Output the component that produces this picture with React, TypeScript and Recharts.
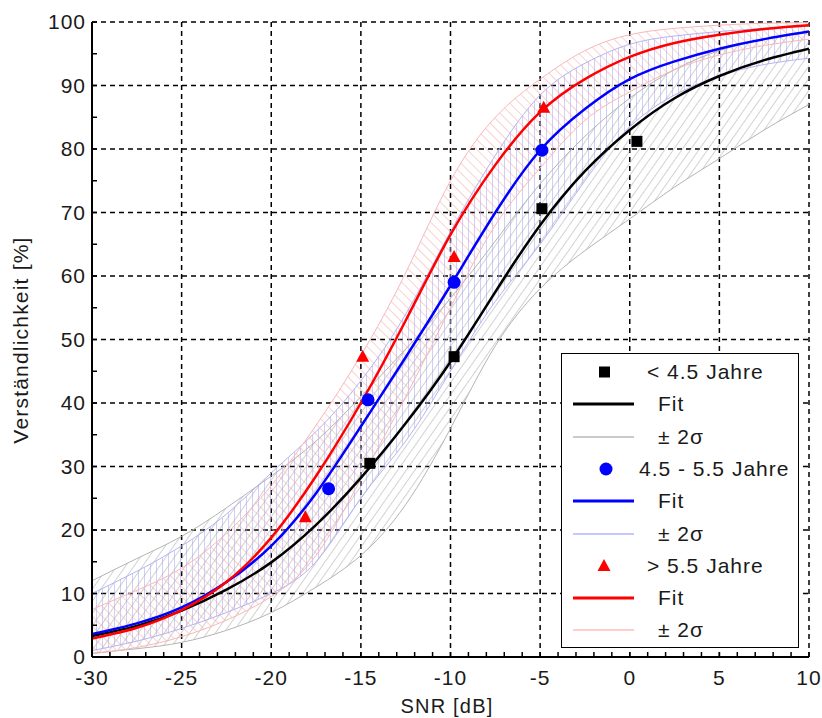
import React from 'react';
import { ComposedChart, Area, Line, Scatter, XAxis, YAxis, CartesianGrid } from 'recharts';

const FONT = '"Liberation Sans", Arial, Helvetica, sans-serif';

// SNR grid (dB) for fit curves and bands
const snr = [-30, -27.5, -25, -22.5, -20, -17.5, -15, -12.5, -10, -7.5, -5, -2.5, 0, 2.5, 5, 7.5, 10];

// fit curves (%)
const fitJung = [3.3, 4.9, 7.3, 10.6, 14.9, 20.8, 28.2, 36.8, 46.5, 57.5, 68, 76.5, 83, 88, 91.5, 94, 95.8];
const fitMittel = [3.6, 5.3, 7.8, 11.8, 17.5, 25.8, 36.3, 47.2, 58.5, 70, 79.8, 86.3, 91, 93.8, 95.8, 97.3, 98.5];
const fitAlt = [2.9, 4.6, 7.4, 11.8, 18.8, 28.5, 40, 53, 66.5, 77.5, 85.8, 91, 94.5, 96.7, 98, 98.9, 99.5];

// +/- 2 sigma bands (%)
const bandJungLo = [0.6, 1.3, 2.3, 4.2, 7, 11, 16, 24, 36, 49, 58, 64, 69, 74, 78.5, 83, 87];
const bandJungHi = [12, 15.5, 19, 23.5, 28.5, 34, 41, 48.5, 56.5, 65.5, 74.5, 82, 88, 92.5, 95.5, 97.3, 98.5];
const bandMittelLo = [1, 2.5, 4.5, 7, 10, 15, 25, 34, 45, 56, 65, 75, 83.5, 88.5, 91.5, 93.3, 94.3];
const bandMittelHi = [10, 13.5, 17.5, 22.5, 29, 35.5, 43.5, 54, 67, 79, 88.5, 93.5, 96.5, 97.8, 98.5, 99, 99.3];
const bandAltLo = [0.5, 1.5, 3.2, 5.8, 9.5, 16, 28, 41, 55, 68, 77, 84.5, 89, 92.5, 94.8, 96.3, 97.3];
const bandAltHi = [7.5, 10.5, 14, 19.5, 27, 36.5, 47.5, 60.5, 75, 85, 91, 95.5, 98, 99, 99.5, 99.8, 99.9];

// measured points
const jungX = [-14.5, -9.8, -4.9, 0.4];
const jungY = [30.5, 47.3, 70.6, 81.2];
const mittelX = [-16.8, -14.6, -9.8, -4.9];
const mittelY = [26.5, 40.5, 59, 79.8];
const altX = [-18.1, -14.9, -9.8, -4.8];
const altY = [22, 47.3, 63, 86.5];

const xTicks = [-30, -25, -20, -15, -10, -5, 0, 5, 10];
const yTicks = [0, 10, 20, 30, 40, 50, 60, 70, 80, 90, 100];
const xMinor = Array.from({ length: 41 }, (_, i) => i - 30);
const yMinor = Array.from({ length: 21 }, (_, i) => i * 5);

const rows = snr.map((x, i) => ({
  x,
  fitJung: fitJung[i],
  fitMittel: fitMittel[i],
  fitAlt: fitAlt[i],
  bandJung: [bandJungLo[i], bandJungHi[i]],
  bandMittel: [bandMittelLo[i], bandMittelHi[i]],
  bandAlt: [bandAltLo[i], bandAltHi[i]],
}));

const toPts = (xs: number[], ys: number[]) => xs.map((x, i) => ({ x, y: ys[i] }));
const ptsJung = toPts(jungX, jungY);
const ptsMittel = toPts(mittelX, mittelY);
const ptsAlt = toPts(altX, altY);

const SquareDot = ({ cx, cy }: any) => <rect x={cx - 5.5} y={cy - 5.5} width={11} height={11} fill="#000" />;
const CircleDot = ({ cx, cy }: any) => <circle cx={cx} cy={cy} r={6.5} fill="#0000ff" />;
const TriangleDot = ({ cx, cy }: any) => (
  <polygon points={`${cx},${cy - 7} ${cx + 6.5},${cy + 5} ${cx - 6.5},${cy + 5}`} fill="#ff0000" />
);

const tickStyle = { fontSize: 21, fill: '#1a1a1a', fontFamily: FONT, style: { letterSpacing: '1px' } };

const legendItems = [
  { kind: 'square', color: '#000', label: '< 4.5 Jahre', left: 85 },
  { kind: 'fit', color: '#000', label: 'Fit', left: 96 },
  { kind: 'band', color: '#b8b8b8', label: '± 2σ', left: 96 },
  { kind: 'circle', color: '#0000ff', label: '4.5 - 5.5 Jahre', left: 77 },
  { kind: 'fit', color: '#0000ff', label: 'Fit', left: 96 },
  { kind: 'band', color: '#b4b4ff', label: '± 2σ', left: 96 },
  { kind: 'triangle', color: '#ff0000', label: '> 5.5 Jahre', left: 85 },
  { kind: 'fit', color: '#ff0000', label: 'Fit', left: 96 },
  { kind: 'band', color: '#ffbcbc', label: '± 2σ', left: 96 },
];

const LegendSample = ({ kind, color }: { kind: string; color: string }) => (
  <svg width={70} height={20} style={{ position: 'absolute', left: 8, top: -10 }}>
    {kind === 'square' && <rect x={29} y={4.5} width={11} height={11} fill={color} />}
    {kind === 'circle' && <circle cx={36} cy={10} r={6.5} fill={color} />}
    {kind === 'triangle' && <polygon points="34,3 40.5,15 27.5,15" fill={color} />}
    {kind === 'fit' && <line x1={3} y1={10} x2={64} y2={10} stroke={color} strokeWidth={3} />}
    {kind === 'band' && <line x1={3} y1={10} x2={64} y2={10} stroke={color} strokeWidth={1.5} />}
  </svg>
);

export default function App() {
  return (
    <div style={{ position: 'absolute', left: 0, top: 0, width: 822, height: 718, background: '#fff', fontFamily: FONT }}>
      <ComposedChart width={822} height={718} data={rows} margin={{ top: 22, right: 13, bottom: 0, left: 0 }}>
        <defs>
          <pattern id="hatchJung" patternUnits="userSpaceOnUse" width={7} height={7} patternTransform="rotate(35)">
            <line x1={0} y1={0} x2={0} y2={7} stroke="#a6a6a6" strokeWidth={1} />
          </pattern>
          <pattern id="hatchMittel" patternUnits="userSpaceOnUse" width={6} height={6}>
            <line x1={0} y1={0} x2={0} y2={6} stroke="#a0a0f2" strokeWidth={1} />
          </pattern>
          <pattern id="hatchAlt" patternUnits="userSpaceOnUse" width={7} height={7} patternTransform="rotate(-45)">
            <line x1={0} y1={0} x2={0} y2={7} stroke="#f4a6a6" strokeWidth={1} />
          </pattern>
        </defs>

        <XAxis xAxisId="gx" type="number" dataKey="x" domain={[-30, 10]} ticks={xTicks} allowDataOverflow hide />
        <YAxis yAxisId="gy" type="number" domain={[0, 100]} ticks={yTicks} allowDataOverflow hide />
        <CartesianGrid xAxisId="gx" yAxisId="gy" stroke="#000" strokeWidth={1.5} strokeDasharray="5 4" />

        <Area dataKey="bandJung" type="natural" fill="url(#hatchJung)" fillOpacity={1} stroke="#b4b4b4" strokeWidth={1} dot={false} activeDot={false} isAnimationActive={false} />
        <Area dataKey="bandMittel" type="natural" fill="url(#hatchMittel)" fillOpacity={1} stroke="#b4b4f6" strokeWidth={1} dot={false} activeDot={false} isAnimationActive={false} />
        <Area dataKey="bandAlt" type="natural" fill="url(#hatchAlt)" fillOpacity={1} stroke="#f8b8b8" strokeWidth={1} dot={false} activeDot={false} isAnimationActive={false} />

        <Line dataKey="fitJung" type="natural" stroke="#000" strokeWidth={2.5} dot={false} activeDot={false} isAnimationActive={false} />
        <Line dataKey="fitMittel" type="natural" stroke="#0000ff" strokeWidth={2.5} dot={false} activeDot={false} isAnimationActive={false} />
        <Line dataKey="fitAlt" type="natural" stroke="#ff0000" strokeWidth={2.5} dot={false} activeDot={false} isAnimationActive={false} />

        <Scatter data={ptsJung} dataKey="y" shape={SquareDot} isAnimationActive={false} />
        <Scatter data={ptsMittel} dataKey="y" shape={CircleDot} isAnimationActive={false} />
        <Scatter data={ptsAlt} dataKey="y" shape={TriangleDot} isAnimationActive={false} />

        <XAxis
          type="number"
          dataKey="x"
          domain={[-30, 10]}
          ticks={xMinor}
          interval={0}
          allowDataOverflow
          height={61}
          tickSize={-5}
          tickMargin={18}
          tickFormatter={(v: number) => (v % 5 === 0 ? String(v) : '')}
          tick={tickStyle}
          axisLine={{ stroke: '#000', strokeWidth: 2 }}
          tickLine={{ stroke: '#000', strokeWidth: 1.5 }}
        />
        <YAxis
          type="number"
          domain={[0, 100]}
          ticks={yMinor}
          interval={0}
          allowDataOverflow
          width={92}
          tickSize={-5}
          tickMargin={11}
          tickFormatter={(v: number) => (v % 10 === 0 ? String(v) : '')}
          tick={tickStyle}
          axisLine={{ stroke: '#000', strokeWidth: 2 }}
          tickLine={{ stroke: '#000', strokeWidth: 1.5 }}
        />
        <XAxis
          xAxisId="top"
          orientation="top"
          type="number"
          domain={[-30, 10]}
          ticks={xMinor}
          interval={0}
          allowDataOverflow
          height={0}
          tickSize={-5}
          tickFormatter={() => ''}
          axisLine={{ stroke: '#000', strokeWidth: 2 }}
          tickLine={{ stroke: '#000', strokeWidth: 1.5 }}
        />
        <YAxis
          yAxisId="right"
          orientation="right"
          type="number"
          domain={[0, 100]}
          ticks={yMinor}
          interval={0}
          allowDataOverflow
          width={0}
          tickSize={-5}
          tickFormatter={() => ''}
          axisLine={{ stroke: '#000', strokeWidth: 2 }}
          tickLine={{ stroke: '#000', strokeWidth: 1.5 }}
        />
      </ComposedChart>

      <div
        style={{
          position: 'absolute',
          left: 21 - 200,
          top: 340 - 13,
          width: 400,
          height: 26,
          lineHeight: '26px',
          textAlign: 'center',
          fontSize: 21,
          letterSpacing: '1.2px',
          color: '#1a1a1a',
          transform: 'rotate(-90deg)',
        }}
      >
        Verständlichkeit [%]
      </div>
      <div
        style={{
          position: 'absolute',
          left: 247,
          top: 694,
          width: 400,
          height: 24,
          lineHeight: '24px',
          textAlign: 'center',
          fontSize: 20,
          letterSpacing: '1.2px',
          color: '#1a1a1a',
        }}
      >
        SNR [dB]
      </div>

      <div
        style={{
          position: 'absolute',
          left: 561,
          top: 353,
          width: 238,
          height: 295,
          boxSizing: 'border-box',
          border: '1.5px solid #000',
          background: '#fff',
        }}
      >
        {legendItems.map((item, i) => (
          <div key={i} style={{ position: 'absolute', left: 0, top: 18 + i * 32.3, width: '100%', height: 0 }}>
            <LegendSample kind={item.kind} color={item.color} />
            <div
              style={{
                position: 'absolute',
                left: item.left,
                top: -13,
                height: 26,
                lineHeight: '26px',
                fontSize: 21,
                letterSpacing: '1px',
                whiteSpace: 'nowrap',
                color: '#1a1a1a',
              }}
            >
              {item.label}
            </div>
          </div>
        ))}
      </div>
    </div>
  );
}
